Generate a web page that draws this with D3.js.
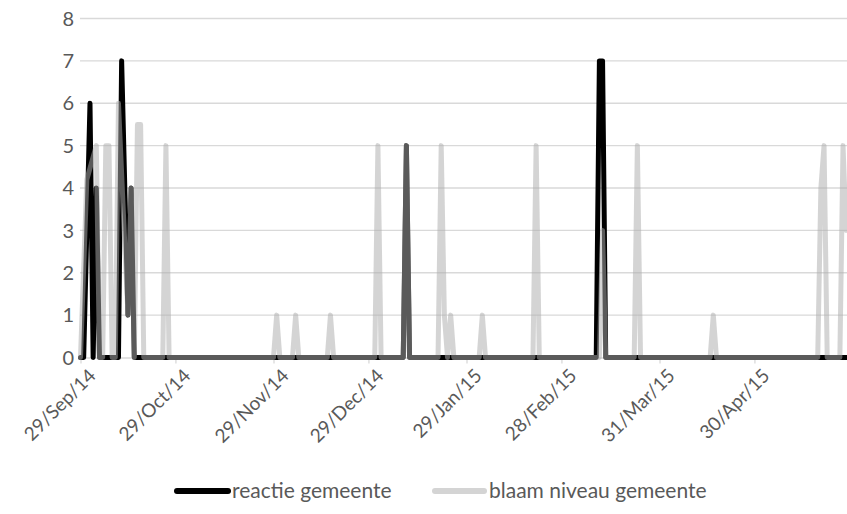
<!DOCTYPE html>
<html>
<head>
<meta charset="utf-8">
<script src="https://cdn.jsdelivr.net/npm/d3@7"></script>
<style>
  html, body { margin: 0; padding: 0; background: #fff; }
  svg { display: block; }
  text { font-family: Lato, "Open Sans", sans-serif; fill: #595959; }
</style>
</head>
<body>
<svg id="chart" width="847" height="514"></svg>
<script>
// ---- data ----
const seriesNames = ["reactie gemeente", "blaam niveau gemeente"];

const reactieDates = ["2014-09-29","2014-09-30","2014-10-02","2014-10-03","2014-10-04","2014-10-05",
  "2014-10-11","2014-10-12","2014-10-14","2014-10-15","2014-10-16",
  "2015-01-09","2015-01-10","2015-01-11",
  "2015-03-11","2015-03-12","2015-03-13","2015-03-14","2015-05-30"];
const reactieValues = [0,0,6,0,4,0,
  0,7,1,4,0,
  0,5,0,
  0,7,7,0,0];

const blaamDates = ["2014-09-29","2014-10-01","2014-10-04","2014-10-05","2014-10-06","2014-10-07","2014-10-08","2014-10-09",
  "2014-10-10","2014-10-11","2014-10-14","2014-10-15","2014-10-16","2014-10-17","2014-10-18","2014-10-19",
  "2014-10-25","2014-10-26","2014-10-27",
  "2014-11-29","2014-11-30","2014-12-01",
  "2014-12-05","2014-12-06","2014-12-07",
  "2014-12-16","2014-12-17","2014-12-18",
  "2014-12-31","2015-01-01","2015-01-02",
  "2015-01-09","2015-01-10","2015-01-11",
  "2015-01-20","2015-01-21","2015-01-22","2015-01-23","2015-01-24","2015-01-25",
  "2015-02-02","2015-02-03","2015-02-04",
  "2015-02-19","2015-02-20","2015-02-21",
  "2015-03-12","2015-03-13","2015-03-14",
  "2015-03-23","2015-03-24","2015-03-25",
  "2015-04-16","2015-04-17","2015-04-18",
  "2015-05-20","2015-05-21","2015-05-22","2015-05-23",
  "2015-05-27","2015-05-28","2015-05-29"];
const blaamValues = [0,4.2,5,0,0,5,5,0,
  0,6,1,4,0,5.5,5.5,0,
  0,5,0,
  0,1,0,
  0,1,0,
  0,1,0,
  0,5,0,
  0,5,0,
  0,5,1,0,1,0,
  0,1,0,
  0,5,0,
  0,3,0,
  0,5,0,
  0,1,0,
  0,4,5,0,
  0,5,3];

const tickDates = ["2014-09-29","2014-10-29","2014-11-29","2014-12-29","2015-01-29","2015-02-28","2015-03-31","2015-04-30"];
const yTicks = [0,1,2,3,4,5,6,7,8];
const domainStart = "2014-09-29", domainEnd = "2015-05-30";

// ---- drawing ----
const parse = d3.utcParse("%Y-%m-%d");
const fmt = d3.utcFormat("%d/%b/%y");
const svg = d3.select("#chart");

const x = d3.scaleUtc().domain([parse(domainStart), parse(domainEnd)]).range([80.5, 80.5 + 243 * 3.164]);
const y = d3.scaleLinear().domain([0, 8]).range([357.5, 18.5]);

// gridlines
svg.append("g").selectAll("line").data(yTicks.filter(v => v > 0)).join("line")
  .attr("x1", 80).attr("x2", 847)
  .attr("y1", d => y(d)).attr("y2", d => y(d))
  .attr("stroke", "#d9d9d9").attr("stroke-width", 1.3);

// y labels
svg.append("g").selectAll("text").data(yTicks).join("text")
  .attr("x", 74).attr("y", d => y(d)).attr("dy", "0.36em")
  .attr("text-anchor", "end").attr("font-size", 20)
  .text(d => d);

// x axis
const xAxis = d3.axisBottom(x).tickValues(tickDates.map(parse)).tickFormat(fmt).tickSize(6).tickSizeOuter(0);
const gx = svg.append("g").attr("transform", `translate(0,${y(0)})`).call(xAxis);
gx.select(".domain").attr("stroke", "#d9d9d9").attr("stroke-width", 1.3);
gx.selectAll(".tick line").attr("stroke", "#d9d9d9").attr("stroke-width", 1.3);
gx.selectAll(".tick text")
  .attr("font-size", 19).attr("fill", "#595959")
  .attr("font-family", "Lato, 'Open Sans', sans-serif")
  .attr("text-anchor", "end")
  .attr("transform", "translate(5,3) rotate(-45)")
  .attr("dy", "0.7em").attr("dx", "-0.2em").attr("y", 6);

const clip = svg.append("clipPath").attr("id", "plotclip").append("rect")
  .attr("x", 0).attr("y", 0).attr("width", 847).attr("height", 400);

const line = d3.line().x(d => x(d.date)).y(d => y(d.value));
const reactie = reactieDates.map((d, i) => ({date: parse(d), value: reactieValues[i]}));
const blaam = blaamDates.map((d, i) => ({date: parse(d), value: blaamValues[i]}));

const plot = svg.append("g").attr("clip-path", "url(#plotclip)");
plot.append("path").datum(reactie).attr("d", line)
  .attr("fill", "none").attr("stroke", "#000").attr("stroke-width", 5)
  .attr("stroke-linejoin", "round").attr("stroke-linecap", "round");
plot.append("path").datum(blaam).attr("d", line)
  .attr("fill", "none").attr("stroke", "rgb(172,172,172)").attr("stroke-opacity", 0.52).attr("stroke-width", 5)
  .attr("stroke-linejoin", "round").attr("stroke-linecap", "round");

// legend
const legend = svg.append("g");
const legendItems = [
  {name: seriesNames[0], x1: 177, x2: 228, tx: 232, color: "#000", op: 1},
  {name: seriesNames[1], x1: 435, x2: 484, tx: 489, color: "rgb(172,172,172)", op: 0.52}
];
legendItems.forEach(it => {
  legend.append("line").attr("x1", it.x1).attr("x2", it.x2).attr("y1", 491).attr("y2", 491)
    .attr("stroke", it.color).attr("stroke-opacity", it.op).attr("stroke-width", 6).attr("stroke-linecap", "round");
  legend.append("text").attr("x", it.tx).attr("y", 491).attr("dy", "0.35em")
    .attr("font-size", 21).text(it.name);
});
</script>
</body>
</html>
